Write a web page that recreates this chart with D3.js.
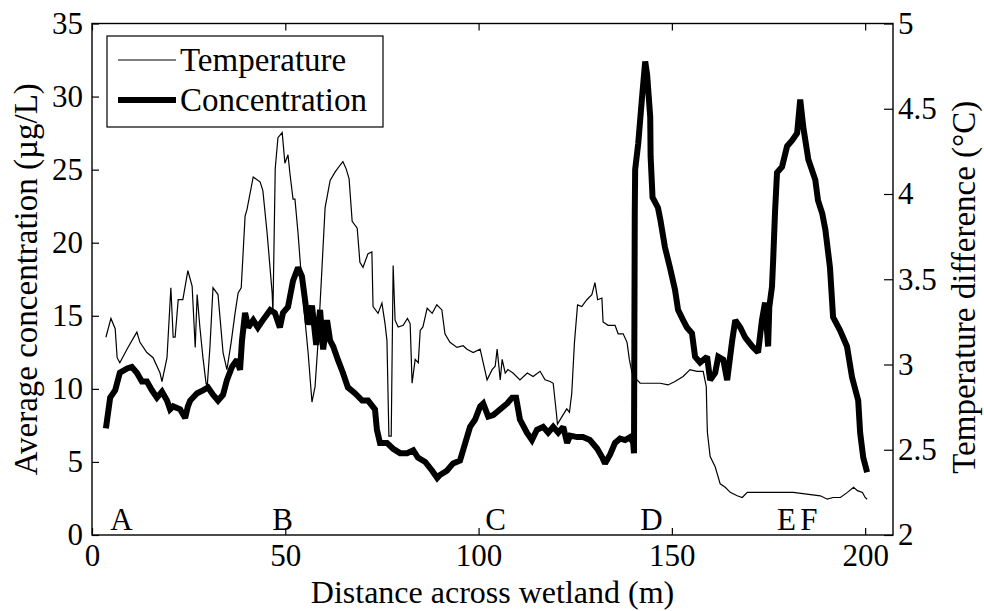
<!DOCTYPE html>
<html>
<head>
<meta charset="utf-8">
<script src="https://cdn.jsdelivr.net/npm/d3@7"></script>
<style>
  body { margin: 0; background: #fff; }
  svg text { font-family: "Liberation Serif", Tinos, "Times New Roman", "DejaVu Serif", serif; fill: #000; }
</style>
</head>
<body>
<div id="chart"></div>
<script>
const WIDTH = 984;
const HEIGHT = 611;
const MARGIN = {left: 92, right: 91, top: 23.5, bottom: 76};
const FONT = '"Liberation Serif", Tinos, "Times New Roman", serif';
const TICK_FONT = 31;
const LABEL_FONT = 32;

// temperature difference (°C) against distance (m)
const tempDistance = [3.6, 4.9, 6.0, 6.5, 7.2, 9.3, 11.6, 12.4, 14.2, 15.8, 17.6, 18.1, 19.4, 20.4, 21.0, 21.5,
    22.3, 23.5, 24.8, 25.9, 26.7, 27.2, 27.9, 28.7, 29.5, 29.8, 30.5, 31.3, 32.6, 33.9, 34.9, 36.0, 37.0, 37.8,
    38.6, 39.6, 40.1, 41.7, 43.5, 44.2, 45.3, 46.6, 46.8, 47.4, 48.1, 49.2, 49.9, 50.7, 51.2, 52.0, 52.5, 53.3,
    54.6, 55.9, 56.9, 57.7, 58.5, 59.5, 60.3, 61.6, 62.9, 64.2, 64.9, 65.7, 66.5, 67.3, 68.6, 69.3, 70.1, 71.4,
    72.4, 72.7, 74.0, 75.0, 75.8, 76.3, 76.8, 77.4, 77.9, 78.4, 79.2, 80.5, 81.6, 82.3, 82.8, 83.6, 84.4, 84.9,
    85.6, 86.7, 88.0, 89.2, 90.5, 91.3, 92.6, 94.4, 96.0, 97.0, 98.6, 100.4, 101.2, 102.2, 103.5, 104.3, 104.8,
    105.6, 106.1, 106.9, 107.6, 108.9, 110.7, 112.6, 114.1, 115.9, 117.2, 118.5, 119.3, 120.1, 120.4, 122.8,
    123.5, 124.1, 124.8, 125.6, 126.7, 128.0, 129.3, 130.1, 130.8, 131.9, 132.2, 133.5, 135.3, 136.1, 137.4,
    138.4, 139.0, 139.7, 141.0, 141.8, 144.4, 147.0, 149.0, 150.8, 152.9, 154.7, 156.5, 158.1, 158.9, 159.1,
    159.2, 159.9, 161.2, 162.5, 163.8, 165.1, 166.9, 168.2, 169.5, 172.8, 176.2, 181.4, 188.4, 190.2, 191.7,
    193.6, 195.4, 197.0, 198.0, 199.3, 200.0, 200.5];
const temperature = [3.16, 3.27, 3.21, 3.04, 3.01, 3.10, 3.19, 3.13, 3.07, 3.04, 2.95, 2.90, 3.04, 3.45, 3.16, 3.16,
    3.38, 3.38, 3.55, 3.46, 3.10, 3.41, 3.22, 3.04, 2.89, 2.87, 3.10, 3.45, 3.41, 3.07, 2.97, 3.13, 3.30, 3.42,
    3.45, 3.87, 3.91, 4.10, 4.07, 4.02, 3.77, 3.42, 3.30, 4.15, 4.33, 4.36, 4.18, 4.23, 4.12, 3.97, 3.97, 3.77,
    3.38, 3.07, 2.78, 2.87, 3.14, 3.57, 3.92, 4.08, 4.13, 4.17, 4.19, 4.15, 4.09, 3.84, 3.80, 3.60, 3.57, 3.65,
    3.66, 3.34, 3.30, 3.36, 3.24, 3.14, 2.58, 2.58, 3.58, 3.26, 3.22, 3.23, 3.27, 3.24, 2.89, 3.03, 3.01, 3.20,
    3.22, 3.33, 3.30, 3.35, 3.32, 3.18, 3.13, 3.10, 3.11, 3.09, 3.07, 3.09, 3.01, 2.91, 2.97, 2.99, 3.09,
    2.91, 3.03, 2.95, 2.97, 2.95, 2.91, 2.95, 2.93, 2.96, 2.91, 2.90, 2.89, 2.72, 2.65, 2.74,
    2.72, 2.83, 3.13, 3.35, 3.34, 3.38, 3.41, 3.48, 3.38, 3.39, 3.25, 3.23, 3.23, 3.18, 3.18,
    3.13, 3.03, 2.95, 2.91, 2.89, 2.89, 2.89, 2.88, 2.90, 2.93, 2.97, 2.96, 2.96, 2.87, 2.67,
    2.60, 2.46, 2.40, 2.30, 2.28, 2.25, 2.23, 2.22, 2.25, 2.25, 2.25, 2.25, 2.23, 2.21, 2.22,
    2.22, 2.25, 2.28, 2.26, 2.25, 2.22, 2.21];

// average concentration (µg/L) against distance (m)
const concDistance = [3.6, 4.7, 6.0, 7.2, 9.1, 10.3, 11.6, 12.9, 14.2, 15.5, 16.8, 18.1, 19.4, 20.2, 21.0, 22.8,
    24.1, 24.8, 25.4, 27.2, 28.7, 30.0, 31.3, 32.6, 33.9, 34.9, 36.2, 37.5, 38.3, 38.8, 39.6, 40.4, 41.7, 42.9,
    44.2, 46.1, 47.3, 48.6, 49.4, 50.7, 52.0, 53.3, 54.3, 55.1, 55.9, 56.9, 58.0, 59.0, 59.8, 60.8, 61.6, 62.4,
    63.6, 64.9, 66.2, 68.0, 69.9, 71.4, 73.2, 73.7, 74.5, 76.3, 77.9, 79.7, 81.5, 83.1, 84.3, 86.2, 88.0, 89.3,
    90.0, 91.8, 93.4, 95.2, 96.0, 97.0, 97.8, 99.1, 100.4, 101.2, 102.5, 103.8, 105.6, 107.4, 108.7, 109.7,
    110.7, 112.5, 113.8, 115.1, 116.7, 118.0, 119.3, 120.6, 121.9, 122.9, 123.7, 125.5, 127.0, 128.8, 130.7,
    132.0, 132.7, 134.0, 135.3, 136.6, 137.9, 139.2, 140.0, 140.2, 140.4, 140.5, 141.3, 142.3, 143.1, 143.6,
    144.4, 144.5, 145.0, 146.4, 147.0, 148.2, 149.5, 150.8, 151.6, 152.9, 153.9, 155.2, 156.0, 157.3, 159.1,
    159.9, 161.2, 162.0, 163.3, 164.3, 165.6, 166.4, 167.7, 169.0, 170.8, 172.3, 173.3, 174.1, 174.9, 175.2,
    175.9, 176.2, 176.7, 177.2, 178.5, 179.8, 181.1, 182.4, 183.2, 184.0, 185.3, 187.1, 187.8, 188.9, 189.7,
    190.9, 191.7, 193.5, 195.3, 196.6, 198.2, 198.7, 199.5, 200.5];
const concentration = [7.3, 9.4, 9.9, 11.1, 11.4, 11.5, 11.1, 10.5, 10.5, 9.9, 9.4, 9.8, 9.2, 8.6, 8.8, 8.6,
    8.0, 8.8, 9.2, 9.7, 9.9, 10.1, 9.6, 9.2, 9.6, 10.6, 11.5, 12.0, 11.3, 13.3, 15.2, 14.2, 14.7, 14.2,
    14.7, 15.4, 15.2, 14.2, 15.2, 15.6, 17.4, 18.3, 17.7, 16.1, 14.4, 15.7, 13.0, 15.4, 12.7, 14.7, 13.3, 12.9,
    12.0, 11.1, 10.1, 9.7, 9.2, 9.2, 8.6, 7.2, 6.3, 6.3, 5.9, 5.6, 5.6, 5.8, 5.3, 5.0, 4.4, 3.9,
    4.1, 4.4, 4.9, 5.1, 5.8, 6.7, 7.4, 7.9, 8.8, 9.0, 8.1, 8.2, 8.6, 9.0, 9.4, 9.4,
    7.9, 7.0, 6.5, 7.2, 7.4, 7.0, 7.4, 7.0, 7.4, 6.3, 6.8, 6.7, 6.7, 6.5, 5.9,
    5.3, 4.9, 5.5, 6.3, 6.6, 6.5, 6.7, 6.3, 5.6, 22.0, 25.0, 26.8, 30.0, 32.4, 31.5,
    28.6, 25.9, 23.1, 22.4, 21.6, 19.7, 18.3, 16.8, 15.4, 14.7, 14.2, 13.8, 12.2, 11.8, 12.2,
    10.6, 11.1, 12.2, 12.0, 10.6, 13.3, 14.7, 14.2, 13.5, 12.9, 12.5, 14.7, 15.9, 12.9, 15.6,
    17.0, 18.8, 22.2, 24.8, 25.2, 26.6, 27.0, 27.5, 29.8, 27.9, 25.7, 24.3, 22.9, 22.0, 20.9,
    18.3, 14.9, 14.0, 12.9, 10.8, 9.2, 7.0, 5.3, 4.3];

const xTicks = [0, 50, 100, 150, 200];
const concTicks = [0, 5, 10, 15, 20, 25, 30, 35];
const tempTicks = [2, 2.5, 3, 3.5, 4, 4.5, 5];

// site markers along the transect
const siteNames = ["A", "B", "C", "D", "E", "F"];
const siteDistances = [4.7, 46.6, 101.7, 141.8, 177.2, 183.2];

const svg = d3.select("#chart").append("svg")
    .attr("width", WIDTH)
    .attr("height", HEIGHT)
    .attr("font-family", FONT);

const x = d3.scaleLinear().domain([0, 207.2]).range([MARGIN.left, WIDTH - MARGIN.right]);
const yConc = d3.scaleLinear().domain([0, 35]).range([HEIGHT - MARGIN.bottom, MARGIN.top]);
const yTemp = d3.scaleLinear().domain([2, 5]).range([HEIGHT - MARGIN.bottom, MARGIN.top]);

const x0 = MARGIN.left, x1 = WIDTH - MARGIN.right;
const y0 = HEIGHT - MARGIN.bottom, y1 = MARGIN.top;

// lines
const tempLine = d3.line()
    .x((d, i) => x(tempDistance[i]))
    .y(d => yTemp(d));
svg.append("path")
    .datum(temperature)
    .attr("d", tempLine)
    .attr("fill", "none")
    .attr("stroke", "#000")
    .attr("stroke-width", 1.2);

const concLine = d3.line()
    .x((d, i) => x(concDistance[i]))
    .y(d => yConc(d));
svg.append("path")
    .datum(concentration)
    .attr("d", concLine)
    .attr("fill", "none")
    .attr("stroke", "#000")
    .attr("stroke-width", 6)
    .attr("stroke-linejoin", "miter")
    .attr("stroke-miterlimit", 2);

// axes, MATLAB style with inward ticks
const fmt = d => String(d);
const axisStyle = g => {
    g.attr("font-family", FONT);
    g.select(".domain").remove();
    g.selectAll("line").attr("stroke", "#000").attr("stroke-width", 1.2);
    g.selectAll("text").attr("font-size", TICK_FONT);
};

svg.append("g")
    .attr("transform", `translate(0,${y0})`)
    .call(d3.axisBottom(x).tickValues(xTicks).tickFormat(fmt).tickSizeInner(-7).tickSizeOuter(0).tickPadding(9))
    .call(axisStyle);

svg.append("g")
    .attr("transform", `translate(0,${y1})`)
    .call(d3.axisTop(x).tickValues(xTicks).tickSizeInner(-7).tickSizeOuter(0).tickFormat(""))
    .call(axisStyle);

svg.append("g")
    .attr("transform", `translate(${x0},0)`)
    .call(d3.axisLeft(yConc).tickValues(concTicks).tickFormat(fmt).tickSizeInner(-7).tickSizeOuter(0).tickPadding(9))
    .call(axisStyle);

svg.append("g")
    .attr("transform", `translate(${x1},0)`)
    .call(d3.axisRight(yTemp).tickValues(tempTicks).tickFormat(fmt).tickSizeInner(-9).tickSizeOuter(0).tickPadding(5))
    .call(axisStyle);

// frame
svg.append("rect")
    .attr("x", x0).attr("y", y1)
    .attr("width", x1 - x0).attr("height", y0 - y1)
    .attr("fill", "none")
    .attr("stroke", "#000")
    .attr("stroke-width", 1.4);

// site letters
svg.append("g").selectAll("text")
    .data(siteNames)
    .join("text")
    .attr("x", (d, i) => x(siteDistances[i]))
    .attr("y", yConc(0.35))
    .attr("font-size", TICK_FONT)
    .text(d => d);

// axis titles
svg.append("text")
    .attr("x", (x0 + x1) / 2)
    .attr("y", 603)
    .attr("text-anchor", "middle")
    .attr("font-size", LABEL_FONT)
    .text("Distance across wetland (m)");

svg.append("text")
    .attr("transform", `translate(37,${(y0 + y1) / 2}) rotate(-90)`)
    .attr("text-anchor", "middle")
    .attr("font-size", LABEL_FONT + 1)
    .text("Average concentration (µg/L)");

svg.append("text")
    .attr("transform", `translate(975,${(y0 + y1) / 2 + 8}) rotate(-90)`)
    .attr("text-anchor", "middle")
    .attr("font-size", LABEL_FONT + 1)
    .text("Temperature difference (°C)");

// legend
const legend = svg.append("g");
legend.append("rect")
    .attr("x", 107).attr("y", 36)
    .attr("width", 276).attr("height", 91)
    .attr("fill", "#fff")
    .attr("stroke", "#000")
    .attr("stroke-width", 1.2);
const legendItems = [
    {name: "Temperature", width: 1.2},
    {name: "Concentration", width: 6}
];
legendItems.forEach((item, i) => {
    const ly = 60 + i * 40;
    legend.append("line")
        .attr("x1", 118).attr("x2", 176)
        .attr("y1", ly).attr("y2", ly)
        .attr("stroke", "#000")
        .attr("stroke-width", item.width);
    legend.append("text")
        .attr("x", 180)
        .attr("y", ly + 11)
        .attr("font-size", LABEL_FONT + 1)
        .text(item.name);
});
</script>
</body>
</html>
